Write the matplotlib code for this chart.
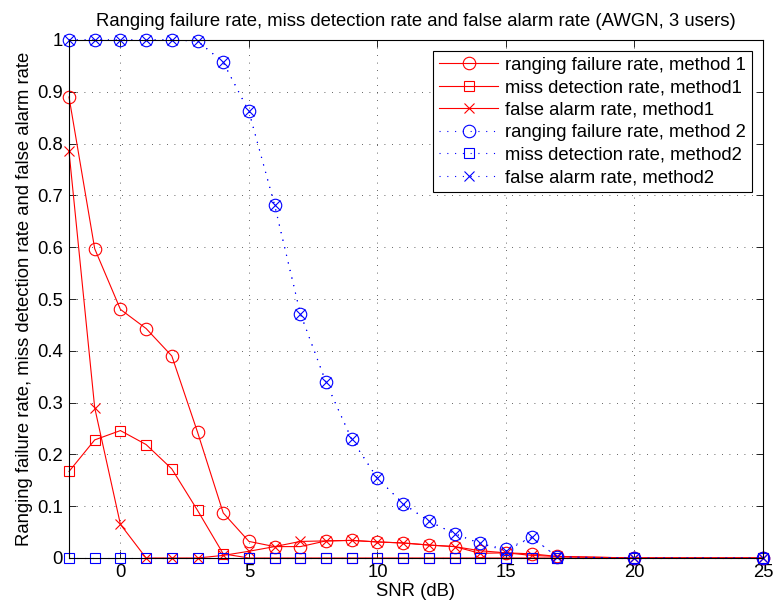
import matplotlib
matplotlib.use("Agg")
import matplotlib.pyplot as plt
import numpy as np

plt.rcParams['font.family'] = ['Liberation Sans', 'DejaVu Sans']
plt.rcParams['font.size'] = 13.3

# SNR points (dB)
snr = [-2, -1, 0, 1, 2, 3, 4, 5, 6, 7, 8, 9, 10, 11, 12, 13, 14, 15, 16, 17, 20, 25]

# method 1
rfr_m1 = [0.890, 0.597, 0.480, 0.443, 0.390, 0.243, 0.087, 0.032, 0.022, 0.022, 0.033,
          0.034, 0.031, 0.029, 0.025, 0.022, 0.014, 0.010, 0.008, 0.003, 0.0, 0.0]
mdr_m1 = [0.167, 0.228, 0.246, 0.219, 0.172, 0.092, 0.008, 0.0, 0.0, 0.0, 0.0,
          0.0, 0.0, 0.0, 0.0, 0.0, 0.0, 0.0, 0.0, 0.0, 0.0, 0.0]
far_m1 = [0.785, 0.290, 0.065, 0.0, 0.0, 0.0, 0.005, 0.013, 0.022, 0.032, 0.033,
          0.034, 0.031, 0.029, 0.025, 0.022, 0.009, 0.010, 0.005, 0.003, 0.0, 0.0]

# method 2
rfr_m2 = [1.0, 1.0, 1.0, 1.0, 1.0, 0.998, 0.957, 0.862, 0.681, 0.472, 0.339,
          0.229, 0.154, 0.105, 0.071, 0.047, 0.028, 0.017, 0.040, 0.002, 0.0, 0.0]
mdr_m2 = [0.0] * len(snr)
far_m2 = [1.0, 1.0, 1.0, 1.0, 1.0, 0.998, 0.957, 0.862, 0.681, 0.472, 0.339,
          0.229, 0.154, 0.105, 0.071, 0.047, 0.028, 0.014, 0.040, 0.002, 0.0, 0.0]

fig = plt.figure(figsize=(7.74, 6.10), dpi=100)
ax = fig.add_axes([69 / 774, 1 - 558 / 610, (763 - 69) / 774, (558 - 40) / 610])

lw = 0.8
dot = (0, (1, 6))
common = dict(lw=lw, mew=0.8, clip_on=False)
ax.plot(snr, rfr_m1, '-', color='red', marker='o', ms=9, mfc='none',
        label='ranging failure rate, method 1', **common)
ax.plot(snr, mdr_m1, '-', color='red', marker='s', ms=7.2, mfc='none',
        label='miss detection rate, method1', **common)
ax.plot(snr, far_m1, '-', color='red', marker='x', ms=6.5,
        label='false alarm rate, method1', **common)
ax.plot(snr, rfr_m2, color='blue', ls=dot, marker='o', ms=9, mfc='none',
        label='ranging failure rate, method 2', **common)
ax.plot(snr, mdr_m2, color='blue', ls=dot, marker='s', ms=7.2, mfc='none',
        label='miss detection rate, method2', **common)
ax.plot(snr, far_m2, color='blue', ls=dot, marker='x', ms=6.5,
        label='false alarm rate, method2', **common)

ax.set_xlim(-2, 25)
ax.set_ylim(0, 1)
ax.set_xticks([0, 5, 10, 15, 20, 25])
yt = np.round(np.arange(0, 1.01, 0.1), 1)
ax.set_yticks(yt)
ax.set_yticklabels([f'{v:g}' for v in yt])
ax.tick_params(direction='in', top=True, right=True, length=5, width=0.6, pad=4.5)
ax.grid(True, color='#303030', ls=(0, (1, 8)), lw=0.6)
for s in ax.spines.values():
    s.set_linewidth(0.8)

ax.set_title('Ranging failure rate, miss detection rate and false alarm rate (AWGN, 3 users)',
             fontsize=13.3, pad=10)
ax.set_xlabel('SNR (dB)', labelpad=1)
ax.set_ylabel('Ranging failure rate, miss detection rate and false alarm rate', labelpad=3)

leg = ax.legend(loc='upper right', handlelength=3.2, handletextpad=0.4,
                labelspacing=0.3, borderpad=0.3, fancybox=False, framealpha=1,
                edgecolor='black', borderaxespad=0.6)
leg.get_frame().set_linewidth(0.8)

fig.savefig('out.png', dpi=100)
